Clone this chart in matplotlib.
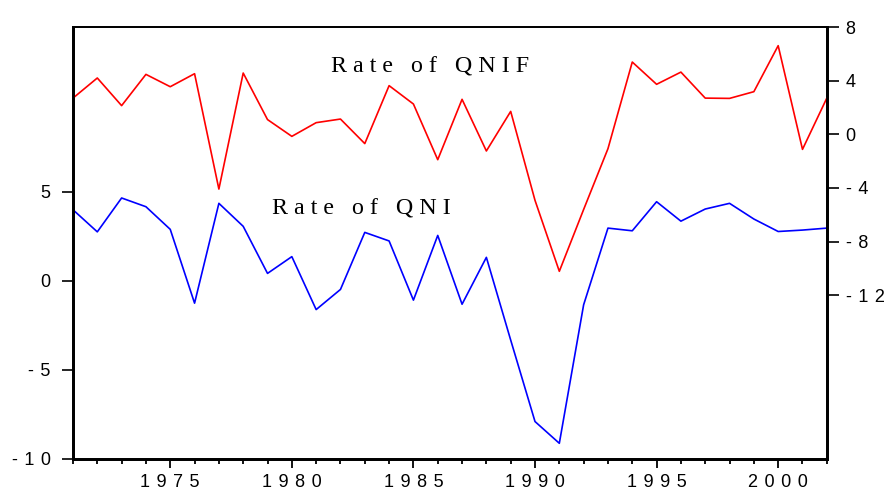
import numpy as np
import matplotlib
matplotlib.use("Agg")
import matplotlib.pyplot as plt
from matplotlib.ticker import FixedLocator, MultipleLocator, FuncFormatter

years = np.arange(1971, 2003)

# Rate of QNI (left axis)
qni = [3.98, 2.74, 4.64, 4.15, 2.88, -1.26, 4.34, 3.05, 0.41, 1.35,
       -1.62, -0.49, 2.71, 2.23, -1.09, 2.54, -1.32, 1.31, -3.33, -7.90,
       -9.12, -1.35, 2.95, 2.80, 4.43, 3.34, 4.02, 4.34, 3.46, 2.76,
       2.84, 2.95]

# Rate of QNIF (right axis)
qnif = [2.70, 4.20, 2.14, 4.47, 3.55, 4.52, -4.08, 4.57, 1.10, -0.15,
        0.87, 1.14, -0.69, 3.63, 2.26, -1.89, 2.61, -1.24, 1.71, -4.92,
        -10.21, -5.60, -1.07, 5.39, 3.73, 4.64, 2.70, 2.68, 3.18, 6.61,
        -1.12, 2.70]

left_ticks = [-10, -5, 0, 5]
right_ticks = [-12, -8, -4, 0, 4, 8]
year_ticks = [1975, 1980, 1985, 1990, 1995, 2000]


def spaced(v, pos=None):
    return " \u200a".join(str(int(v)))


fig = plt.figure(figsize=(8.9, 4.94), dpi=100)
ax = fig.add_axes([0.082, 0.0709, 0.847, 0.8744])
ax2 = ax.twinx()

ax.plot(years, qni, color="#0000ff", lw=1.2)
ax2.plot(years, qnif, color="#ff0000", lw=1.2)

ax.set_xlim(1971, 2002)
ax.set_ylim(-10, 14.23)
ax2.set_ylim(-24.2, 8)

ax.xaxis.set_major_locator(FixedLocator(year_ticks))
ax.xaxis.set_minor_locator(MultipleLocator(1))
ax.xaxis.set_major_formatter(FuncFormatter(spaced))
ax.tick_params(axis="x", which="major", direction="out", length=6.5, width=1.3, pad=4)
ax.tick_params(axis="x", which="minor", direction="out", length=3.6, width=1.3)

ax.yaxis.set_major_locator(FixedLocator(left_ticks))
ax.yaxis.set_major_formatter(FuncFormatter(spaced))
ax.tick_params(axis="y", direction="out", length=8, width=1.2, pad=8)

ax2.yaxis.set_major_locator(FixedLocator(right_ticks))
ax2.yaxis.set_major_formatter(FuncFormatter(spaced))
ax2.tick_params(axis="y", direction="out", length=8.5, width=1.2, pad=5)

for lab in ax.get_xticklabels() + ax.get_yticklabels() + ax2.get_yticklabels():
    lab.set_fontfamily(["Liberation Sans", "DejaVu Sans"])
    lab.set_fontsize(13)

for a in (ax, ax2):
    a.spines["left"].set_linewidth(2)
    a.spines["bottom"].set_linewidth(2)
    a.spines["right"].set_linewidth(2)
    a.spines["top"].set_linewidth(1.3)

ax.text(1985.7, 11.68, "R a t e   o f   Q N I F", family="Liberation Serif", fontsize=17.3,
        ha="center", va="baseline")
ax.text(1982.85, 3.72, "R a t e   o f   Q N I", family="Liberation Serif", fontsize=17.3,
        ha="center", va="baseline")

fig.savefig("out.png", dpi=100)
